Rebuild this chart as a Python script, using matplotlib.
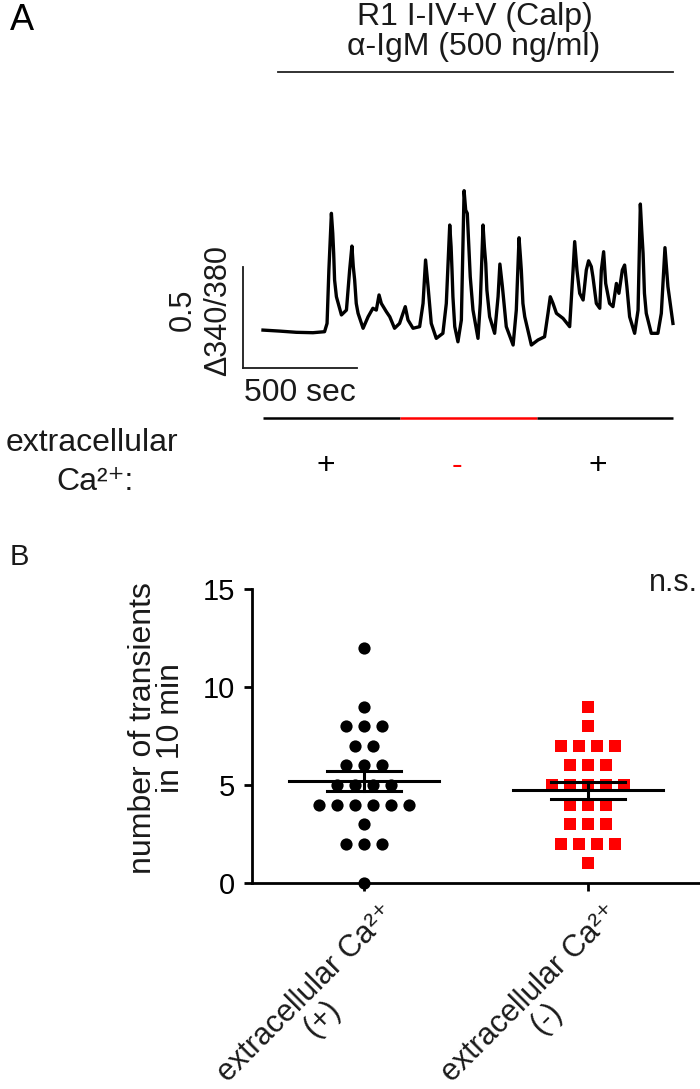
import numpy as np
import matplotlib
matplotlib.use("Agg")
import matplotlib.pyplot as plt
from matplotlib import transforms

plt.rcParams['font.family'] = ['Liberation Sans', 'DejaVu Sans']

W, H = 700, 1089

# --- panel A: ratio trace (time in sec, delta 340/380) ---
trace_t = [0, 73, 146, 219, 270, 281, 289, 300, 306, 310, 314, 322, 344, 366, 380, 390,
           396, 402, 409, 417, 439, 461, 482, 497, 509, 519, 541, 556, 577, 599, 614, 624,
           636, 658, 687, 702, 713, 724, 738, 760, 789, 804, 819, 825, 829, 833, 841, 855,
           870, 882, 889, 896, 909, 921, 943, 953, 965, 971, 977, 982, 994, 1016, 1031,
           1039, 1050, 1067, 1097, 1111, 1123, 1129, 1133, 1140, 1148, 1177, 1206, 1235,
           1250, 1260, 1272, 1287, 1316, 1345, 1360, 1367, 1377, 1389, 1404, 1418, 1428,
           1440, 1447, 1462, 1477, 1484, 1494, 1503, 1520, 1535, 1550, 1561, 1576, 1586,
           1596, 1608, 1630, 1645, 1655, 1661, 1667, 1673, 1681, 1703, 1732, 1747, 1763,
           1776, 1798]
trace_v = [0.008, 0.003, -0.003, -0.005, 0.0, 0.041, 0.305, 0.586, 0.487, 0.388, 0.256,
           0.173, 0.083, 0.107, 0.305, 0.424, 0.322, 0.256, 0.140, 0.091, 0.017, 0.074,
           0.116, 0.107, 0.182, 0.140, 0.099, 0.074, 0.017, 0.041, 0.091, 0.124, 0.058,
           0.017, 0.025, 0.140, 0.355, 0.223, 0.041, -0.033, -0.008, 0.140, 0.528, 0.421,
           0.305, 0.173, 0.025, -0.050, 0.058, 0.698, 0.602, 0.586, 0.272, 0.107, -0.033,
           0.140, 0.528, 0.421, 0.338, 0.206, 0.074, -0.008, 0.173, 0.335, 0.223, 0.025,
           -0.066, 0.107, 0.465, 0.371, 0.305, 0.140, 0.074, -0.066, -0.041, -0.025, 0.091,
           0.173, 0.140, 0.091, 0.066, 0.025, 0.305, 0.446, 0.305, 0.190, 0.157, 0.305,
           0.351, 0.322, 0.272, 0.140, 0.116, 0.305, 0.396, 0.239, 0.140, 0.124, 0.239,
           0.190, 0.305, 0.330, 0.223, 0.074, -0.008, 0.107, 0.632, 0.503, 0.388, 0.190,
           0.091, -0.008, -0.008, 0.091, 0.416, 0.223, 0.041]

igm_start = 66
ca_edges = [0, 600, 1200, 1800]
ca_signs = ['+', '-', '+']
ca_colors = ['black', 'red', 'black']
scale_t = 500
scale_v = 0.5

# --- panel B: transients in 10 min ---
group_names = ['extracellular Ca²⁺', 'extracellular Ca²⁺']
group_signs = ['(+)', '(-)']
ca_plus = [12, 9, 8, 8, 8, 7, 7, 6, 6, 6, 5, 5, 5, 5, 4, 4, 4, 4, 4, 4, 3, 2, 2, 2, 0]
ca_minus = [9, 8, 7, 7, 7, 7, 6, 6, 6, 5, 5, 5, 5, 5, 4, 4, 4, 3, 3, 3, 2, 2, 2, 2, 1]


def px_axes(fig, l, t, r, b):
    return fig.add_axes([l / W, 1 - b / H, (r - l) / W, (b - t) / H])


fig = plt.figure(figsize=(W / 100, H / 100), dpi=100)

# overlay in pixel coordinates for labels (drawn on top)
ann = fig.add_axes([0, 0, 1, 1])
ann.set_xlim(0, W)
ann.set_ylim(H, 0)
ann.axis('off')
ann.patch.set_alpha(0)
ann.set_zorder(5)

txt = '#1a1a1a'

# ---- A ----
ax = px_axes(fig, 230, 180, 690, 390)
ax.set_xlim(-144.7, 1872.8)
ax.set_ylim(-0.2886, 0.751)
ax.axis('off')
ax.plot(trace_t, trace_v, color='black', lw=2.4, solid_joinstyle='round')

# scale bars
x0, y0 = -88, -0.18
ax.plot([x0, x0 + scale_t], [y0, y0], color=txt, lw=1.3, clip_on=False)
ax.plot([x0, x0], [y0, y0 + scale_v], color=txt, lw=1.3, clip_on=False)

blend = transforms.blended_transform_factory(ax.transData, ann.transData)
ax.plot([igm_start, ca_edges[-1]], [72, 72], color='#222222', lw=1.3,
        transform=blend, clip_on=False)
for i in range(3):
    ax.plot([ca_edges[i], ca_edges[i + 1]], [418, 418], color=ca_colors[i], lw=1.8,
            transform=blend, clip_on=False, solid_capstyle='butt')

fs = 23
ann.text(22, 20, 'A', fontsize=26, ha='center', va='center')
ann.text(475, 17, 'R1 I-IV+V (Calp)', fontsize=fs, ha='center', va='center', color=txt)
ann.text(474, 47, 'α-IgM (500 ng/ml)', fontsize=fs, ha='center', va='center', color=txt)
ann.text(244, 393, '500 sec', fontsize=fs, ha='left', va='center', color=txt)
ann.text(183, 310, '0.5', fontsize=22, ha='center', va='center', rotation=90, color=txt)
ann.text(218, 311, 'Δ340/380', fontsize=22, ha='center', va='center', rotation=90, color=txt)
ann.text(92, 443, 'extracellular', fontsize=fs, ha='center', va='center', color=txt)
ann.text(95, 482, 'Ca²⁺:', fontsize=fs, ha='center', va='center', color=txt)
for xp, s, c in zip([326, 457, 598], ca_signs, ca_colors):
    ann.text(xp, 466, s, fontsize=fs, ha='center', va='center', color=c)

# ---- B ----
bx = px_axes(fig, 252, 589, 700, 883)
bx.set_xlim(-0.5, 1.5)
bx.set_ylim(0, 15)
for side in ['top', 'right']:
    bx.spines[side].set_visible(False)
for side in ['left', 'bottom']:
    bx.spines[side].set_linewidth(2.0)
bx.set_yticks([0, 5, 10, 15])
bx.set_xticks([0, 1])
bx.set_xticklabels([])
bx.tick_params(axis='y', length=6, width=2.0, labelsize=21, pad=6)
bx.tick_params(axis='x', length=6, width=2.0)

# rotated category labels: x from the axis scale, y in figure pixels
bblend = transforms.blended_transform_factory(bx.transData, ann.transData)
for i, (name, sign) in enumerate(zip(group_names, group_signs)):
    bx.text(i, 915, name, fontsize=22, rotation=45, rotation_mode='anchor',
            ha='right', va='baseline', color=txt, clip_on=False,
            transform=transforms.offset_copy(bblend, fig=fig, x=32, y=0, units='dots'))
    bx.text(i, 1019, sign, fontsize=22, rotation=45, rotation_mode='anchor',
            ha='center', va='center', color=txt, clip_on=False,
            transform=transforms.offset_copy(bblend, fig=fig, x=-42, y=0, units='dots'))

spacing = 0.08
for i, (vals, mk, col, ms) in enumerate([(ca_plus, 'o', 'black', 8.8),
                                           (ca_minus, 's', '#ff0000', 9.2)]):
    vals = np.array(vals)
    xs = np.zeros(len(vals), dtype=float)
    for v in np.unique(vals):
        idx = np.where(vals == v)[0]
        n = len(idx)
        xs[idx] = i + (np.arange(n) - (n - 1) / 2) * spacing
    bx.plot(xs, vals, linestyle='none', marker=mk, color=col, markersize=ms,
            markeredgewidth=0, clip_on=False, zorder=3)
    m = vals.mean()
    sem = vals.std(ddof=1) / np.sqrt(len(vals))
    bx.plot([i - 0.335, i + 0.335], [m, m], color='black', lw=2.2, zorder=4)
    bx.plot([i - 0.165, i + 0.165], [m + sem, m + sem], color='black', lw=2.2, zorder=4)
    bx.plot([i - 0.165, i + 0.165], [m - sem, m - sem], color='black', lw=2.2, zorder=4)
    bx.plot([i, i], [m - sem, m + sem], color='black', lw=2.2, zorder=4)

ann.text(19, 557, 'B', fontsize=21, ha='center', va='center', color=txt)
ann.text(157, 728, 'number of transients\nin 10 min', fontsize=23, ha='center',
         va='center', rotation=90, multialignment='center', linespacing=0.95, color=txt)
ann.text(673, 583, 'n.s.', fontsize=22, ha='center', va='center', color=txt)

fig.savefig('out.png', dpi=100)
